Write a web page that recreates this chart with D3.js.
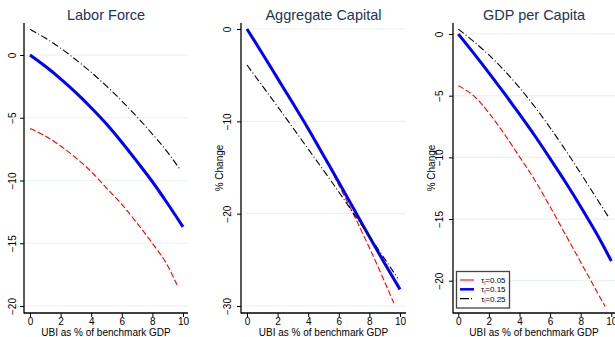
<!DOCTYPE html>
<html><head><meta charset="utf-8">
<script src="https://cdn.jsdelivr.net/npm/d3@7"></script>
<style>
html,body{margin:0;padding:0;background:#fff;}
svg{display:block;font-family:"Liberation Sans",Arial,sans-serif;}
</style></head>
<body><svg id="c" width="615" height="337"></svg>
<script>
// ---- data ----
const xTicks = [0, 2, 4, 6, 8, 10];
const lfTicks = [0, -5, -10, -15, -20];
const capTicks = [0, -10, -20, -30];
const gdpTicks = [0, -5, -10, -15, -20];

const xLow  = [0, 1, 2, 3, 4, 5, 6, 7, 8, 9, 9.6];     // tau_l = 0.05
const xMid  = [0, 1, 2, 3, 4, 5, 6, 7, 8, 9, 10];      // tau_l = 0.15
const xHigh = [0, 1, 2, 3, 4, 5, 6, 7, 8, 9, 9.85];    // tau_l = 0.25

const lfLow  = [-5.85, -6.45, -7.25, -8.2, -9.3, -10.6, -11.9, -13.4, -15.0, -16.8, -18.3];
const lfMid  = [0, -0.9, -1.9, -3.0, -4.2, -5.5, -6.95, -8.5, -10.1, -11.85, -13.7];
const lfHigh = [2.05, 1.35, 0.55, -0.38, -1.38, -2.48, -3.66, -4.94, -6.3, -7.76, -9.2];

const capLow  = [0, -2.65, -5.3, -8.0, -10.8, -13.7, -16.9, -20.2, -23.7, -27.4, -29.7];
const capMid  = [0, -2.65, -5.35, -8.05, -10.8, -13.7, -16.6, -19.55, -22.5, -25.4, -28.2];
const capHigh = [-3.9, -6.15, -8.4, -10.7, -13.0, -15.3, -17.65, -20.05, -22.45, -24.9, -27.0];

const gdpLow  = [-4.2, -5.0, -6.4, -8.1, -9.95, -11.85, -14.0, -16.25, -18.5, -20.75, -22.1];
const gdpMid  = [0, -1.55, -3.15, -4.8, -6.5, -8.25, -10.1, -12.0, -14.0, -16.1, -18.4];
const gdpHigh = [0.4, -0.6, -1.7, -2.95, -4.35, -5.9, -7.6, -9.4, -11.3, -13.25, -14.9];

const legendLabels = ["0.05", "0.15", "0.25"];
const titles = ["Labor Force", "Aggregate Capital", "GDP per Capita"];
const xTitle = "UBI as % of benchmark GDP";
const yTitle = "% Change";

// ---- layout ----
const svg = d3.select("#c");
const styles = [
  {color: "#ff0000", width: 1.1, dash: "6,2.5"},
  {color: "#0000ff", width: 3, dash: null},
  {color: "#000000", width: 1.1, dash: "7,2.5,1,2.5"}
];
const panels = [
  {title: titles[0], ticks: lfTicks, series: [lfLow, lfMid, lfHigh],
   ax: 24, right: 188, x0: 30, yTopVal: 0, yTopPx: 55, yBotVal: -20, yBotPx: 306, ytitle: false, labOff: 8},
  {title: titles[1], ticks: capTicks, series: [capLow, capMid, capHigh],
   ax: 241, right: 406, x0: 247, yTopVal: 0, yTopPx: 29, yBotVal: -30, yBotPx: 306, ytitle: true, labOff: 10},
  {title: titles[2], ticks: gdpTicks, series: [gdpLow, gdpMid, gdpHigh],
   ax: 453, right: 615, x0: 458.3, yTopVal: 0, yTopPx: 34, yBotVal: -20, yBotPx: 280.7, ytitle: true, labOff: 10}
];
const xs = [xLow, xMid, xHigh];
const axisTop = 23, axisBot = 313;

panels.forEach((p, pi) => {
  const g = svg.append("g");
  const x = d3.scaleLinear().domain([0, 10]).range([p.x0, p.x0 + 153]);
  const y = d3.scaleLinear().domain([p.yTopVal, p.yBotVal]).range([p.yTopPx, p.yBotPx]);

  // gridlines
  g.selectAll("line.grid").data(p.ticks).enter().append("line")
    .attr("x1", p.ax).attr("x2", p.right)
    .attr("y1", d => y(d)).attr("y2", d => y(d))
    .attr("stroke", "#eaf2f3").attr("stroke-width", 1.2);

  // y axis
  const ya = d3.axisLeft(y).tickValues(p.ticks).tickSize(4).tickFormat(d3.format("d"));
  const yg = g.append("g").attr("transform", `translate(${p.ax},0)`).call(ya);
  yg.select(".domain").remove();
  yg.selectAll("line").attr("stroke", "#000");
  yg.selectAll("text").attr("transform", "rotate(-90)")
    .attr("x", 0).attr("y", -p.labOff).attr("dy", 0)
    .attr("text-anchor", "middle").attr("font-size", 10).attr("fill", "#000");
  g.append("line").attr("x1", p.ax).attr("x2", p.ax).attr("y1", axisTop).attr("y2", axisBot + 0.5)
    .attr("stroke", "#000").attr("stroke-width", 1.3);

  // x axis
  const xa = d3.axisBottom(x).tickValues(xTicks).tickSize(4).tickFormat(d3.format("d"));
  const xg = g.append("g").attr("transform", `translate(0,${axisBot})`).call(xa);
  xg.select(".domain").remove();
  xg.selectAll("line").attr("stroke", "#000");
  xg.selectAll("text").attr("font-size", 10).attr("fill", "#000").attr("y", 11.5).attr("dy", 0);
  g.append("line").attr("x1", p.ax).attr("x2", p.right).attr("y1", axisBot).attr("y2", axisBot)
    .attr("stroke", "#000").attr("stroke-width", 1.3);

  // titles
  const cx = (p.ax + p.right) / 2;
  g.append("text").attr("x", cx).attr("y", 20).attr("text-anchor", "middle")
    .attr("font-size", 14.5).attr("fill", "#243452").text(p.title);
  g.append("text").attr("x", cx).attr("y", 335.5).attr("text-anchor", "middle")
    .attr("font-size", 10).attr("fill", "#000").text(xTitle);
  if (p.ytitle) {
    g.append("text").attr("transform", `translate(${p.ax - 18},168) rotate(-90)`)
      .attr("text-anchor", "middle").attr("font-size", 10).attr("fill", "#000").text(yTitle);
  }

  // lines
  const line = d3.line().curve(d3.curveMonotoneX).x(d => x(d[0])).y(d => y(d[1]));
  p.series.forEach((vals, si) => {
    const pts = vals.map((v, i) => [xs[si][i], v]);
    const s = styles[si];
    g.append("path").attr("d", line(pts)).attr("fill", "none")
      .attr("stroke", s.color).attr("stroke-width", s.width)
      .attr("stroke-dasharray", s.dash);
  });

  // legend in last panel
  if (pi === 2) {
    const lg = svg.append("g");
    lg.append("rect").attr("x", 456.5).attr("y", 271.5).attr("width", 53).attr("height", 36.5)
      .attr("fill", "#fff").attr("stroke", "#444").attr("stroke-width", 1.3);
    legendLabels.forEach((lab, i) => {
      const yy = 280 + i * 9.3;
      const s = styles[i];
      lg.append("line").attr("x1", 460).attr("x2", 474).attr("y1", yy).attr("y2", yy)
        .attr("stroke", s.color).attr("stroke-width", s.width === 3 ? 2.5 : 1.1)
        .attr("stroke-dasharray", i === 2 ? "9,2,1,2" : null);
      const t = lg.append("text").attr("x", 481).attr("y", yy + 3).attr("font-size", 8).attr("fill", "#000");
      t.append("tspan").text("τ");
      t.append("tspan").attr("font-size", 5).attr("dy", 1.5).text("l");
      t.append("tspan").attr("dy", -1.5).text("=" + lab);
    });
  }
});
</script></body></html>
